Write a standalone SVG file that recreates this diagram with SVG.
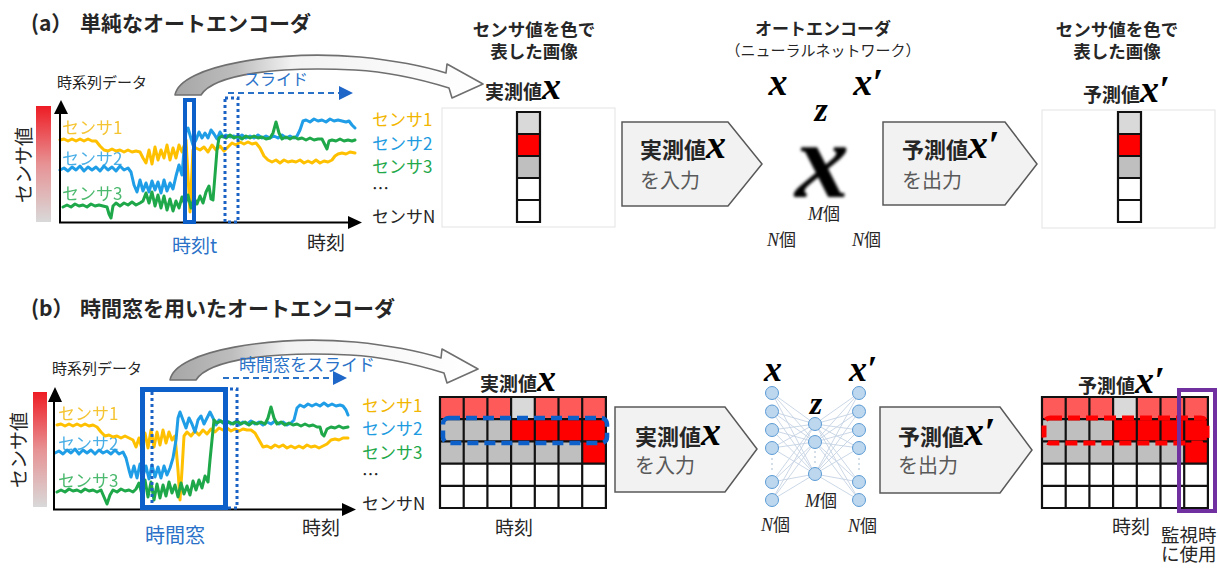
<svg xmlns="http://www.w3.org/2000/svg" width="1220" height="568" viewBox="0 0 1220 568">
<defs>
<style>
.t{font-family:'Noto Sans CJK JP','Noto Sans',sans-serif;fill:#262626}
.b{font-weight:bold}
.m{font-family:'Liberation Serif','DejaVu Serif',serif;font-weight:bold;font-style:italic;fill:#000}
.mi{font-family:'Liberation Serif','DejaVu Serif',serif;font-style:italic}
.y{fill:#f2b600}.bl{fill:#1e9be0}.g{fill:#1fa84a}
.ly{stroke:#ffc000}.lb{stroke:#1f9de6}.lg{stroke:#1ea84a}
.ln{fill:none;stroke-width:3;stroke-linejoin:round;stroke-linecap:round}
.ax{stroke:#000;stroke-width:2;fill:none}
.pent{fill:#f2f2f2;stroke:#595959;stroke-width:1.5}
.node{fill:#bdd7ee;stroke:#5b9bd5;stroke-width:1}
.blue{fill:#2a72c8}
.cell{stroke:#111;stroke-width:2.2;fill:none;stroke-linecap:square}
.frame{fill:#fff;stroke:#e3e3e3;stroke-width:1}
.gray{fill:#595959}
</style>
<linearGradient id="bar" x1="0" y1="0" x2="0" y2="1"><stop offset="0" stop-color="#ee1c24"/><stop offset="0.5" stop-color="#e79294"/><stop offset="1" stop-color="#d9d9d9"/></linearGradient>
<linearGradient id="arr" x1="0" y1="0" x2="1" y2="0"><stop offset="0" stop-color="#a6a6a6"/><stop offset="0.2" stop-color="#bdbdbd"/><stop offset="0.38" stop-color="#f2f2f2"/><stop offset="1" stop-color="#ffffff"/></linearGradient>
<filter id="blur" x="-20%" y="-20%" width="140%" height="140%"><feGaussianBlur stdDeviation="1.6"/></filter>
<path id="curve" d="M175 95 C180 65 280 50 360 57 C400 61 430 68 446 73 L447 64 L483 84 L452 98 L449 88 C420 79 390 72 355 70 C280 66 214 74 201 95 Z" fill="url(#arr)" stroke="#6f6f6f" stroke-width="1.6" stroke-linejoin="round"/>
<g id="col">
<rect x="0" y="0" width="23" height="22" fill="#d9d9d9"/>
<rect x="0" y="22" width="23" height="22" fill="#ff0000"/>
<rect x="0" y="44" width="23" height="22" fill="#bfbfbf"/>
<rect x="0" y="66" width="23" height="44" fill="#ffffff"/>
<path class="cell" d="M0 0H23V110H0Z M0 22H23 M0 44H23 M0 66H23 M0 88H23"/>
</g>
<g id="grid">
<rect x="0" y="0" width="71.1" height="22.2" fill="#ff5a5a"/>
<rect x="71.1" y="0" width="23.7" height="22.2" fill="#d9d9d9"/>
<rect x="94.8" y="0" width="71.1" height="22.2" fill="#ff5a5a"/>
<rect x="0" y="22.2" width="71.1" height="22.2" fill="#bfbfbf"/>
<rect x="71.1" y="22.2" width="94.8" height="22.2" fill="#ff0000"/>
<rect x="0" y="44.4" width="142.2" height="22.2" fill="#bfbfbf"/>
<rect x="142.2" y="44.4" width="23.7" height="22.2" fill="#ff0000"/>
<rect x="0" y="66.6" width="165.9" height="44.4" fill="#ffffff"/>
<path class="cell" d="M0 0V111 M23.7 0V111 M47.4 0V111 M71.1 0V111 M94.8 0V111 M118.5 0V111 M142.2 0V111 M165.9 0V111 M0 0H165.9 M0 22.2H165.9 M0 44.4H165.9 M0 66.6H165.9 M0 88.8H165.9 M0 111H165.9"/>
</g>
</defs>

<!-- Titles -->
<g id="title-a"><text class="t b" x="31" y="31" font-size="21" fill="#1a1a1a">(a）<tspan x="80">単純なオートエンコーダ</tspan></text></g>
<g id="title-b"><text class="t b" x="31" y="316" font-size="21" fill="#1a1a1a">(b）<tspan x="80">時間窓を用いたオートエンコーダ</tspan></text></g>

<!-- Connectors -->
<g id="connectors">
<use href="#curve"/>
<use href="#curve" transform="translate(-5,285)"/>
<line x1="228" y1="93" x2="341" y2="93" stroke="#2a72c8" stroke-width="2" stroke-dasharray="6 4"/>
<polygon points="339,86 353,93 339,100" fill="#1f66c9"/>
<line x1="223" y1="378" x2="335" y2="378" stroke="#2a72c8" stroke-width="2" stroke-dasharray="6 4"/>
<polygon points="333,371 347,378 333,385" fill="#1f66c9"/>
</g>

<!-- Chart (a) -->
<g id="chart-a">
<text class="t" x="57" y="88" font-size="15" fill="#404040">時系列データ</text>
<rect x="36" y="106" width="15" height="116" fill="url(#bar)"/>
<text class="t" font-size="19" transform="translate(31,165) rotate(-90)" text-anchor="middle">センサ値</text>
<text class="t y" x="62" y="133.5" font-size="17" opacity="0.8">センサ1</text>
<text class="t bl" x="62" y="164.5" font-size="17" opacity="0.8">センサ2</text>
<text class="t g" x="62" y="199.5" font-size="17" opacity="0.8">センサ3</text>
<polyline class="ln ly" points="60,140 64,139 68,141 72,139 76,141 80,139 84,141 88,139 92,141 96,141 100,146 104,150 108,151 112,149 116,151 120,150 124,152 128,150 132,152 136,151 140,152 143,158 146,163 149,150 152,164 155,147 158,160 161,150 164,158 167,145 170,160 173,148 176,158 179,145 182,152 186,140 190,212 193,150 196,148 200,150 204,147 208,152 212,145 216,150 220,146 224,151 228,147 232,143 236,145 240,142 244,144 248,142 252,144 256,143 260,148 264,156 268,160 272,162 276,160 280,163 284,160 288,162 292,161 296,162 300,160 304,163 308,161 312,163 316,160 320,163 324,161 328,162 332,160 335,156 338,154 342,153 346,154 350,152 355,153"/>
<polyline class="ln lb" points="60,170 64,168 68,171 72,167 76,170 80,166 84,171 88,167 92,170 96,167 100,171 104,166 108,170 112,167 116,171 120,166 124,170 128,168 131,172 134,185 137,192 140,180 143,191 146,183 149,192 152,181 155,190 158,182 161,193 164,180 167,191 170,183 173,189 176,176 179,165 182,175 184,150 186,131 188,128 190,135 193,145 196,140 199,132 202,138 205,133 208,138 211,130 214,134 217,139 220,132 223,137 226,135 230,137 234,136 238,138 242,135 246,138 250,136 254,138 258,135 262,138 266,136 270,138 274,136 278,138 282,135 286,138 290,136 294,138 297,136 300,130 303,121 306,120 310,122 314,119 318,121 322,120 326,122 330,119 334,121 338,120 342,121 346,122 349,121 352,125 355,128"/>
<polyline class="ln lg" points="63,207 67,205 71,207 75,204 79,206 83,205 87,207 91,204 95,206 99,205 103,206 107,207 109,214 111,218 113,206 116,203 120,206 124,203 128,205 132,202 136,205 140,203 143,201 146,193 149,203 152,192 155,206 158,195 161,208 164,196 167,210 170,199 173,211 176,201 179,208 182,197 185,205 188,195 191,208 194,198 197,204 200,196 203,203 206,192 209,186 211,199 213,200 215,175 217,150 219,138 222,136 226,138 230,135 234,138 238,136 242,139 246,136 250,138 254,136 258,138 262,137 266,139 270,138 273,133 276,122 279,133 282,139 286,137 290,139 294,137 298,139 302,138 306,140 310,138 314,140 318,139 322,139 325,145 327,149 329,141 332,140 336,141 340,139 344,141 348,140 352,141 355,140"/>
<line class="ax" x1="60" y1="223" x2="60" y2="112"/>
<polygon points="54,114 61,100 68,114" fill="#000"/>
<line class="ax" x1="59" y1="222.5" x2="350" y2="222.5"/>
<polygon points="348,216 362,222.5 348,229" fill="#000"/>
<rect x="225" y="98" width="13" height="124" fill="none" stroke="#1a62c4" stroke-width="3" stroke-dasharray="3 3"/>
<rect x="185" y="100" width="9" height="122" fill="none" stroke="#0d5fc9" stroke-width="4"/>
<text class="t blue" x="244" y="85" font-size="16">スライド</text>
<text class="t blue" x="172" y="253" font-size="19">時刻t</text>
<text class="t" x="307" y="250" font-size="19">時刻</text>
<text class="t y" x="372" y="125.5" font-size="17">センサ1</text>
<text class="t bl" x="372" y="149.5" font-size="17">センサ2</text>
<text class="t g" x="372" y="172.5" font-size="17">センサ3</text>
<text class="t" x="372" y="195" font-size="17">…</text>
<text class="t" x="372" y="222.5" font-size="17">センサN</text>
</g>

<!-- Input image (a) -->
<g id="image-in-a">
<text class="t b" x="534" y="36" font-size="17.5" text-anchor="middle">センサ値を色で</text>
<text class="t b" x="534" y="58" font-size="17.5" text-anchor="middle">表した画像</text>
<text class="t b" x="485" y="99" font-size="19">実測値<tspan class="m" font-size="38">x</tspan></text>
<rect class="frame" x="442" y="108" width="173" height="119"/>
<use href="#col" x="517" y="112"/>
</g>

<!-- Input arrow (a) -->
<g id="arrow-in-a">
<polygon class="pent" points="622,122 728,122 762,164 728,206 622,206"/>
<text class="t b" x="640" y="158" font-size="22" fill="#404040">実測値<tspan class="m" font-size="40">x</tspan></text>
<text class="t gray" x="640" y="188" font-size="20">を入力</text>
</g>

<!-- Autoencoder (a) -->
<g id="autoencoder-a">
<text class="t b" x="823" y="35" font-size="17" text-anchor="middle">オートエンコーダ</text>
<text class="t" x="823" y="56" font-size="15" text-anchor="middle">（ニューラルネットワーク）</text>
<text class="m" x="778" y="95" font-size="38" text-anchor="middle">x</text>
<text class="m" x="868" y="95" font-size="38" text-anchor="middle">x′</text>
<text class="m" x="821" y="121" font-size="34" text-anchor="middle">z</text>
<text class="m" x="822" y="197" font-size="108" text-anchor="middle" filter="url(#blur)">x</text>
<text class="t" x="808" y="220" font-size="17"><tspan class="mi" font-size="18">M</tspan>個</text>
<text class="t" x="767" y="246" font-size="17"><tspan class="mi" font-size="18">N</tspan>個</text>
<text class="t" x="852" y="246" font-size="17"><tspan class="mi" font-size="18">N</tspan>個</text>
</g>

<!-- Output arrow (a) -->
<g id="arrow-out-a">
<polygon class="pent" points="883,122 1005,122 1037,164 1005,205 883,205"/>
<text class="t b" x="902" y="158" font-size="22" fill="#404040">予測値<tspan class="m" font-size="40">x′</tspan></text>
<text class="t gray" x="902" y="188" font-size="20">を出力</text>
</g>

<!-- Output image (a) -->
<g id="image-out-a">
<text class="t b" x="1117" y="36" font-size="17.5" text-anchor="middle">センサ値を色で</text>
<text class="t b" x="1117" y="58" font-size="17.5" text-anchor="middle">表した画像</text>
<text class="t b" x="1083" y="102" font-size="19">予測値<tspan class="m" font-size="38">x′</tspan></text>
<rect class="frame" x="1042" y="110" width="173" height="118"/>
<use href="#col" x="1118" y="112"/>
</g>

<!-- Chart (b) -->
<g id="chart-b">
<text class="t" x="52" y="374" font-size="15" fill="#404040">時系列データ</text>
<rect x="33" y="392" width="14" height="115" fill="url(#bar)"/>
<text class="t" font-size="19" transform="translate(26,450) rotate(-90)" text-anchor="middle">センサ値</text>
<text class="t y" x="58" y="419.5" font-size="17" opacity="0.8">センサ1</text>
<text class="t bl" x="58" y="449.5" font-size="17" opacity="0.8">センサ2</text>
<text class="t g" x="58" y="486.5" font-size="17" opacity="0.8">センサ3</text>
<polyline class="ln ly" points="57,425 61,424 65,426 69,424 73,426 77,424 81,426 85,424 89,426 93,425 97,427 101,432 105,436 109,435 113,437 117,436 121,438 125,436 129,438 133,440 136,447 139,438 142,449 145,433 148,448 151,430 154,447 157,432 160,445 163,430 166,443 169,432 172,440 175,436 178,470 180,500 182,470 184,436 187,432 191,436 195,431 199,435 203,430 207,434 211,429 215,432 219,428 223,430 227,428 231,431 235,429 239,431 243,429 247,430 251,430 255,433 259,440 263,447 267,446 271,448 275,445 279,447 283,445 287,448 291,446 295,448 299,446 303,448 307,445 311,447 315,446 319,448 323,446 327,444 331,440 335,439 339,440 343,438 348,438"/>
<polyline class="ln lb" points="55,453 59,451 63,454 67,450 71,453 75,449 79,454 83,450 87,453 91,450 95,454 99,450 103,453 107,451 111,454 115,450 119,454 123,452 126,458 129,470 131,477 134,466 137,478 140,464 143,476 146,466 149,479 152,465 155,477 158,467 161,478 164,466 167,475 170,468 173,458 176,440 178,418 180,412 183,420 186,428 189,418 192,424 195,432 198,420 201,416 204,424 207,418 210,412 213,418 216,425 219,420 223,423 227,421 231,424 235,422 239,425 243,422 247,424 251,421 255,424 259,422 263,425 267,422 271,424 275,421 279,424 283,422 287,425 291,423 294,420 297,408 300,405 304,407 308,404 312,406 316,404 320,406 324,403 328,406 332,404 336,406 340,405 343,406 346,410 348,415"/>
<polyline class="ln lg" points="57,492 61,490 65,492 69,489 73,491 77,490 81,492 85,489 89,491 93,490 97,492 101,490 104,497 107,504 110,495 113,490 117,492 121,489 125,491 129,490 133,492 136,489 139,483 142,495 145,480 148,497 151,482 154,500 157,484 160,498 163,485 166,496 169,482 172,493 175,485 178,497 181,483 184,494 187,486 190,495 193,481 196,490 199,480 202,488 205,476 208,482 210,460 212,440 214,420 217,423 221,421 225,424 229,422 233,424 237,421 241,424 245,422 249,425 253,422 257,424 261,422 265,424 268,418 271,407 274,418 277,424 281,422 285,425 289,423 293,425 297,424 301,426 305,424 309,426 313,425 317,427 320,427 322,434 324,436 327,429 331,427 335,428 339,426 343,428 348,427"/>
<line class="ax" x1="54" y1="510" x2="54" y2="400"/>
<polygon points="48,402 55,387 62,402" fill="#000"/>
<line class="ax" x1="53" y1="509.5" x2="344" y2="509.5"/>
<polygon points="342,503 356,509.5 342,516" fill="#000"/>
<rect x="152" y="389" width="85" height="119" fill="none" stroke="#1a62c4" stroke-width="3" stroke-dasharray="3 3"/>
<rect x="142.5" y="389.5" width="83" height="118" fill="none" stroke="#0d5fc9" stroke-width="5"/>
<text class="t blue" x="239" y="370.5" font-size="17">時間窓をスライド</text>
<text class="t blue" x="145" y="542.5" font-size="20">時間窓</text>
<text class="t" x="302" y="535" font-size="19">時刻</text>
<text class="t y" x="362" y="411.5" font-size="17">センサ1</text>
<text class="t bl" x="362" y="434.5" font-size="17">センサ2</text>
<text class="t g" x="362" y="458.5" font-size="17">センサ3</text>
<text class="t" x="362" y="481" font-size="17">…</text>
<text class="t" x="362" y="509.5" font-size="17">センサN</text>
</g>

<!-- Input image (b) -->
<g id="image-in-b">
<text class="t b" x="480" y="391" font-size="19">実測値<tspan class="m" font-size="38">x</tspan></text>
<use href="#grid" x="440" y="397"/>
<rect x="443" y="418" width="164" height="25" rx="6" fill="none" stroke="#0d5fc9" stroke-width="4.5" stroke-dasharray="11 6"/>
<text class="t" x="495" y="535" font-size="19">時刻</text>
</g>

<!-- Input arrow (b) -->
<g id="arrow-in-b">
<polygon class="pent" points="615,407 725,407 757,449 725,492 615,492"/>
<text class="t b" x="635" y="445" font-size="22" fill="#404040">実測値<tspan class="m" font-size="40">x</tspan></text>
<text class="t gray" x="635" y="473" font-size="20">を入力</text>
</g>

<!-- Autoencoder (b) -->
<g id="autoencoder-b">
<path fill="none" stroke="#c5d3e3" stroke-width="0.9" d="M772 393L815 424M772 393L815 442M772 393L815 474M772 411.5L815 424M772 411.5L815 442M772 411.5L815 474M772 430L815 424M772 430L815 442M772 430L815 474M772 448L815 424M772 448L815 442M772 448L815 474M772 482L815 424M772 482L815 442M772 482L815 474M772 500L815 424M772 500L815 442M772 500L815 474M859 393L815 424M859 393L815 442M859 393L815 474M859 411.5L815 424M859 411.5L815 442M859 411.5L815 474M859 430L815 424M859 430L815 442M859 430L815 474M859 448L815 424M859 448L815 442M859 448L815 474M859 482L815 424M859 482L815 442M859 482L815 474M859 500L815 424M859 500L815 442M859 500L815 474"/>
<g fill="#9db3cc"><circle cx="772" cy="459" r="0.8"/><circle cx="772" cy="464" r="0.8"/><circle cx="772" cy="469" r="0.8"/><circle cx="859" cy="459" r="0.8"/><circle cx="859" cy="464" r="0.8"/><circle cx="859" cy="469" r="0.8"/><circle cx="815" cy="452" r="0.8"/><circle cx="815" cy="457" r="0.8"/><circle cx="815" cy="462" r="0.8"/></g>
<circle class="node" cx="772" cy="393" r="6.5"/><circle class="node" cx="772" cy="411.5" r="6.5"/><circle class="node" cx="772" cy="430" r="6.5"/><circle class="node" cx="772" cy="448" r="6.5"/><circle class="node" cx="772" cy="482" r="6.5"/><circle class="node" cx="772" cy="500" r="6.5"/>
<circle class="node" cx="815" cy="424" r="6.5"/><circle class="node" cx="815" cy="442" r="6.5"/><circle class="node" cx="815" cy="474" r="6.5"/>
<circle class="node" cx="859" cy="393" r="6.5"/><circle class="node" cx="859" cy="411.5" r="6.5"/><circle class="node" cx="859" cy="430" r="6.5"/><circle class="node" cx="859" cy="448" r="6.5"/><circle class="node" cx="859" cy="482" r="6.5"/><circle class="node" cx="859" cy="500" r="6.5"/>
<text class="m" x="773" y="381" font-size="36" text-anchor="middle">x</text>
<text class="m" x="863" y="381" font-size="36" text-anchor="middle">x′</text>
<text class="m" x="816" y="414" font-size="32" text-anchor="middle">z</text>
<text class="t" x="805" y="506.5" font-size="17"><tspan class="mi" font-size="18">M</tspan>個</text>
<text class="t" x="761" y="530.5" font-size="17"><tspan class="mi" font-size="18">N</tspan>個</text>
<text class="t" x="848" y="531.5" font-size="17"><tspan class="mi" font-size="18">N</tspan>個</text>
</g>

<!-- Output arrow (b) -->
<g id="arrow-out-b">
<polygon class="pent" points="880,407 1000,407 1032,450 1000,493 880,493"/>
<text class="t b" x="898" y="445" font-size="22" fill="#404040">予測値<tspan class="m" font-size="40">x′</tspan></text>
<text class="t gray" x="898" y="473" font-size="20">を出力</text>
</g>

<!-- Output image (b) -->
<g id="image-out-b">
<text class="t b" x="1078" y="393" font-size="19">予測値<tspan class="m" font-size="38">x′</tspan></text>
<use href="#grid" x="1042" y="397"/>
<rect x="1044" y="418" width="163" height="25" rx="6" fill="none" stroke="#ff0000" stroke-width="5" stroke-dasharray="12 6"/>
<rect x="1179" y="390" width="36" height="121" fill="none" stroke="#7030a0" stroke-width="4"/>
<text class="t" x="1112" y="534" font-size="19">時刻</text>
<text class="t" x="1161" y="541.5" font-size="18.5" fill="#7030a0">監視時</text>
<text class="t" x="1161" y="561" font-size="18.5" fill="#7030a0">に使用</text>
</g>
</svg>
